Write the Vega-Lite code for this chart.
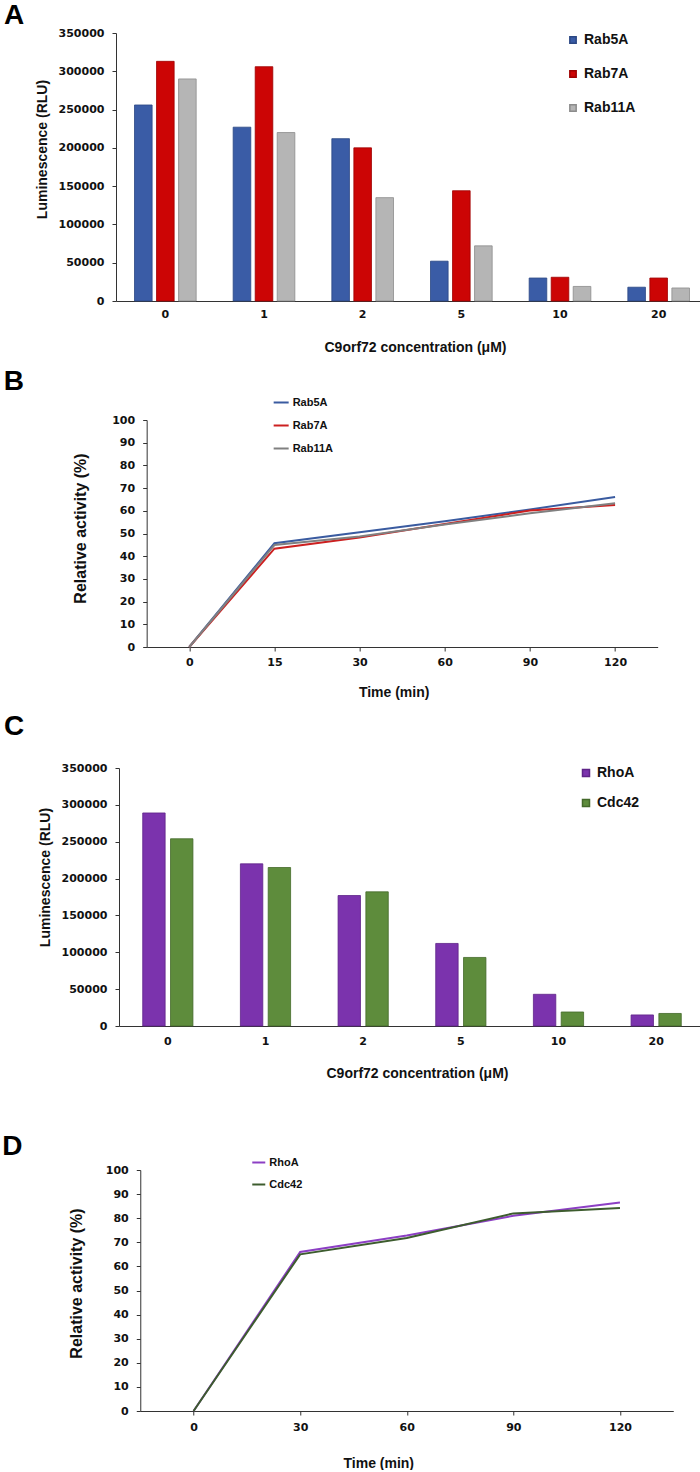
{
  "$schema": "https://vega.github.io/schema/vega-lite/v6.json",
  "background": "white",
  "padding": {"left": 2, "top": 2, "right": -8, "bottom": 0},
  "center": true,
  "bounds": "full",
  "spacing": 14,
  "resolve": {
    "scale": {"color": "independent", "stroke": "independent", "xOffset": "independent", "x": "independent", "y": "independent"},
    "legend": {"color": "independent", "stroke": "independent"}
  },
  "config": {
    "font": "Liberation Sans",
    "view": {"stroke": null},
    "axis": {
      "grid": false,
      "domainColor": "#333333",
      "tickColor": "#333333",
      "domainWidth": 1,
      "tickWidth": 1,
      "tickSize": 4,
      "labelColor": "#111111",
      "labelFont": "DejaVu Sans",
      "labelFontWeight": "bold",
      "labelFontSize": 11,
      "titleColor": "#111111",
      "titleFont": "Liberation Sans",
      "titleFontWeight": "bold"
    },
    "legend": {
      "orient": "none",
      "title": null,
      "padding": 0,
      "labelFont": "Liberation Sans",
      "labelFontWeight": "bold",
      "labelColor": "#111111",
      "labelLimit": 0
    },
    "title": {
      "font": "Liberation Sans",
      "fontSize": 28,
      "fontWeight": "bold",
      "anchor": "start",
      "frame": "group",
      "baseline": "alphabetic",
      "color": "#000000",
      "limit": 0
    }
  },
  "datasets": {
    "barsA": [
      {"conc": "0", "protein": "Rab5A", "value": 256000},
      {"conc": "0", "protein": "Rab7A", "value": 313000},
      {"conc": "0", "protein": "Rab11A", "value": 290000},
      {"conc": "1", "protein": "Rab5A", "value": 227000},
      {"conc": "1", "protein": "Rab7A", "value": 306000},
      {"conc": "1", "protein": "Rab11A", "value": 220000},
      {"conc": "2", "protein": "Rab5A", "value": 212000},
      {"conc": "2", "protein": "Rab7A", "value": 200000},
      {"conc": "2", "protein": "Rab11A", "value": 135000},
      {"conc": "5", "protein": "Rab5A", "value": 52000},
      {"conc": "5", "protein": "Rab7A", "value": 144000},
      {"conc": "5", "protein": "Rab11A", "value": 72000},
      {"conc": "10", "protein": "Rab5A", "value": 30000},
      {"conc": "10", "protein": "Rab7A", "value": 31000},
      {"conc": "10", "protein": "Rab11A", "value": 19000},
      {"conc": "20", "protein": "Rab5A", "value": 18000},
      {"conc": "20", "protein": "Rab7A", "value": 30000},
      {"conc": "20", "protein": "Rab11A", "value": 17000}
    ],
    "linesB": [
      {"time": "0", "protein": "Rab5A", "value": 0},
      {"time": "15", "protein": "Rab5A", "value": 45.7},
      {"time": "30", "protein": "Rab5A", "value": 50.6},
      {"time": "60", "protein": "Rab5A", "value": 55.4},
      {"time": "90", "protein": "Rab5A", "value": 60.6},
      {"time": "120", "protein": "Rab5A", "value": 66.1},
      {"time": "0", "protein": "Rab7A", "value": 0},
      {"time": "15", "protein": "Rab7A", "value": 43.3},
      {"time": "30", "protein": "Rab7A", "value": 48.2},
      {"time": "60", "protein": "Rab7A", "value": 54.2},
      {"time": "90", "protein": "Rab7A", "value": 60.1},
      {"time": "120", "protein": "Rab7A", "value": 62.6},
      {"time": "0", "protein": "Rab11A", "value": 0},
      {"time": "15", "protein": "Rab11A", "value": 44.9},
      {"time": "30", "protein": "Rab11A", "value": 48.7},
      {"time": "60", "protein": "Rab11A", "value": 54.0},
      {"time": "90", "protein": "Rab11A", "value": 58.9},
      {"time": "120", "protein": "Rab11A", "value": 63.3}
    ],
    "barsC": [
      {"conc": "0", "protein": "RhoA", "value": 289000},
      {"conc": "0", "protein": "Cdc42", "value": 254000},
      {"conc": "1", "protein": "RhoA", "value": 220000},
      {"conc": "1", "protein": "Cdc42", "value": 215000},
      {"conc": "2", "protein": "RhoA", "value": 177000},
      {"conc": "2", "protein": "Cdc42", "value": 182000},
      {"conc": "5", "protein": "RhoA", "value": 112000},
      {"conc": "5", "protein": "Cdc42", "value": 93000},
      {"conc": "10", "protein": "RhoA", "value": 43000},
      {"conc": "10", "protein": "Cdc42", "value": 19000},
      {"conc": "20", "protein": "RhoA", "value": 15000},
      {"conc": "20", "protein": "Cdc42", "value": 17000}
    ],
    "linesD": [
      {"time": "0", "protein": "RhoA", "value": 0},
      {"time": "30", "protein": "RhoA", "value": 66.0},
      {"time": "60", "protein": "RhoA", "value": 72.8},
      {"time": "90", "protein": "RhoA", "value": 81.0},
      {"time": "120", "protein": "RhoA", "value": 86.5},
      {"time": "0", "protein": "Cdc42", "value": 0},
      {"time": "30", "protein": "Cdc42", "value": 65.0},
      {"time": "60", "protein": "Cdc42", "value": 71.8},
      {"time": "90", "protein": "Cdc42", "value": 82.0},
      {"time": "120", "protein": "Cdc42", "value": 84.2}
    ]
  },
  "vconcat": [
    {
      "title": {"text": "A", "dx": -112, "offset": -3},
      "width": 592,
      "height": 268,
      "data": {"name": "barsA"},
      "mark": {"type": "bar", "strokeWidth": 0.8},
      "encoding": {
        "x": {
          "field": "conc", "type": "ordinal",
          "sort": ["0", "1", "2", "5", "10", "20"],
          "scale": {"paddingInner": 0.375, "paddingOuter": 0.1875},
          "axis": {"title": "C9orf72 concentration (μM)", "labelAngle": 0, "ticks": false, "labelPadding": 7, "titleFontSize": 14, "titlePadding": 21, "titleX": 299}
        },
        "xOffset": {
          "field": "protein", "type": "nominal",
          "sort": ["Rab5A", "Rab7A", "Rab11A"],
          "scale": {"paddingInner": 0.2, "paddingOuter": 0}
        },
        "y": {
          "field": "value", "type": "quantitative",
          "scale": {"domain": [0, 350000]},
          "axis": {"values": [0, 50000, 100000, 150000, 200000, 250000, 300000, 350000], "format": "d", "title": "Luminescence (RLU)", "titleFontSize": 14, "labelPadding": 8, "titlePadding": 9, "titleY": 116}
        },
        "color": {
          "field": "protein", "type": "nominal",
          "scale": {"domain": ["Rab5A", "Rab7A", "Rab11A"], "range": ["#3A5CA6", "#CC0505", "#B5B5B5"]},
          "legend": {"legendX": 450, "legendY": 0, "symbolType": "square", "symbolSize": 40, "labelFontSize": 14, "rowPadding": 20, "labelOffset": 4}
        },
        "stroke": {
          "field": "protein", "type": "nominal",
          "scale": {"domain": ["Rab5A", "Rab7A", "Rab11A"], "range": ["#2B4784", "#9E0000", "#8C8C8C"]},
          "legend": null
        }
      }
    },
    {
      "title": {"text": "B                                                                                    \u200b", "dx": -143, "offset": -2},
      "width": 511,
      "height": 227,
      "data": {"name": "linesB"},
      "mark": {"type": "line", "strokeWidth": 2},
      "encoding": {
        "x": {
          "field": "time", "type": "ordinal",
          "sort": ["0", "15", "30", "60", "90", "120"],
          "scale": {"type": "point", "padding": 0.5},
          "axis": {"title": "Time (min)", "labelAngle": 0, "labelPadding": 5, "titleFontSize": 14, "titlePadding": 18, "titleX": 247}
        },
        "y": {
          "field": "value", "type": "quantitative",
          "scale": {"domain": [0, 100]},
          "axis": {"values": [0, 10, 20, 30, 40, 50, 60, 70, 80, 90, 100], "title": "Relative activity (%)", "titleFontSize": 16, "labelPadding": 8, "titlePadding": 23, "titleY": 108}
        },
        "color": {
          "field": "protein", "type": "nominal",
          "scale": {"domain": ["Rab5A", "Rab7A", "Rab11A"], "range": ["#3A5BA0", "#CC2020", "#808080"]},
          "legend": {"legendX": 126, "legendY": -26, "symbolType": "stroke", "symbolSize": 225, "symbolStrokeWidth": 2, "labelFontSize": 11, "rowPadding": 9, "labelOffset": 3}
        }
      }
    },
    {
      "title": {"text": "C", "dx": -115, "offset": 21},
      "width": 586,
      "height": 258,
      "data": {"name": "barsC"},
      "mark": {"type": "bar", "strokeWidth": 0.8},
      "encoding": {
        "x": {
          "field": "conc", "type": "ordinal",
          "sort": ["0", "1", "2", "5", "10", "20"],
          "scale": {"paddingInner": 0.486, "paddingOuter": 0.243},
          "axis": {"title": ["C9orf72 concentration (μM)", " "], "titleLineHeight": 38, "labelAngle": 0, "ticks": false, "labelPadding": 9, "titleFontSize": 14, "titlePadding": 20, "titleX": 298}
        },
        "xOffset": {
          "field": "protein", "type": "nominal",
          "sort": ["RhoA", "Cdc42"],
          "scale": {"paddingInner": 0.194, "paddingOuter": 0}
        },
        "y": {
          "field": "value", "type": "quantitative",
          "scale": {"domain": [0, 350000]},
          "axis": {"values": [0, 50000, 100000, 150000, 200000, 250000, 300000, 350000], "format": "d", "title": "Luminescence (RLU)", "titleFontSize": 14, "labelPadding": 8, "titlePadding": 9, "titleY": 109}
        },
        "color": {
          "field": "protein", "type": "nominal",
          "scale": {"domain": ["RhoA", "Cdc42"], "range": ["#7B33AD", "#5E8C3C"]},
          "legend": {"legendX": 460, "legendY": -2, "symbolType": "square", "symbolSize": 49, "labelFontSize": 14, "rowPadding": 16, "labelOffset": 4}
        },
        "stroke": {
          "field": "protein", "type": "nominal",
          "scale": {"domain": ["RhoA", "Cdc42"], "range": ["#5E2388", "#44692A"]},
          "legend": null
        }
      }
    },
    {
      "title": {"text": "D                                                                                     \u200b", "dx": -138, "offset": -5.5},
      "width": 533,
      "height": 241,
      "data": {"name": "linesD"},
      "mark": {"type": "line", "strokeWidth": 2},
      "encoding": {
        "x": {
          "field": "time", "type": "ordinal",
          "sort": ["0", "30", "60", "90", "120"],
          "scale": {"type": "point", "padding": 0.5},
          "axis": {"title": "Time (min)", "labelAngle": 0, "labelPadding": 6, "titleFontSize": 14, "titlePadding": 24, "titleX": 238}
        },
        "y": {
          "field": "value", "type": "quantitative",
          "scale": {"domain": [0, 100]},
          "axis": {"values": [0, 10, 20, 30, 40, 50, 60, 70, 80, 90, 100], "title": "Relative activity (%)", "titleFontSize": 16, "labelPadding": 8, "titlePadding": 21, "titleY": 113}
        },
        "color": {
          "field": "protein", "type": "nominal",
          "scale": {"domain": ["RhoA", "Cdc42"], "range": ["#8C3FC4", "#3D5C2E"]},
          "legend": {"legendX": 111, "legendY": -15, "symbolType": "stroke", "symbolSize": 169, "symbolStrokeWidth": 2, "labelFontSize": 11, "rowPadding": 9, "labelOffset": 3}
        }
      }
    }
  ]
}
